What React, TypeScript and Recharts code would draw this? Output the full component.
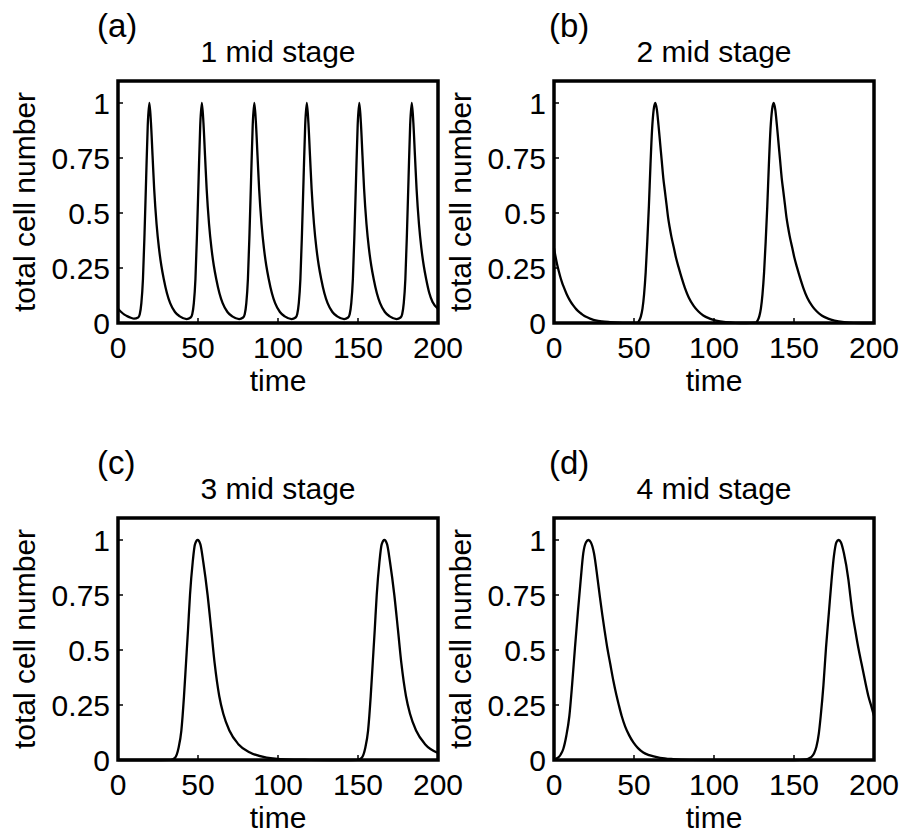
import React from 'react';
import { LineChart, Line, XAxis, YAxis, ReferenceArea } from 'recharts';

const FONT = '"Liberation Sans", Arial, Helvetica, sans-serif';

const timeTicks = [0, 50, 100, 150, 200];
const cellTicks = [0, 0.25, 0.5, 0.75, 1];

// (a) 1 mid stage
const timeA = [
  0, 2, 4, 6, 8, 10, 12.6, 13.6, 14.6, 15.6, 16.6, 17.6, 18.6, 19.6, 20.6, 21.6, 22.6, 24.1, 25.6, 27.1, 28.6, 30.6, 32.6, 35.6, 38.6, 42.9,
  45.4, 46.4, 47.4, 48.4, 49.4, 50.4, 51.4, 52.4, 53.4, 54.4, 55.4, 56.9, 58.4, 59.9, 61.4, 63.4, 65.4, 68.4, 71.4, 75.7,
  78.2, 79.2, 80.2, 81.2, 82.2, 83.2, 84.2, 85.2, 86.2, 87.2, 88.2, 89.7, 91.2, 92.7, 94.2, 96.2, 98.2, 101.2, 104.2, 108.5,
  111, 112, 113, 114, 115, 116, 117, 118, 119, 120, 121, 122.5, 124, 125.5, 127, 129, 131, 134, 137, 141.3,
  143.8, 144.8, 145.8, 146.8, 147.8, 148.8, 149.8, 150.8, 151.8, 152.8, 153.8, 155.3, 156.8, 158.3, 159.8, 161.8, 163.8, 166.8, 169.8, 174.1,
  176.6, 177.6, 178.6, 179.6, 180.6, 181.6, 182.6, 183.6, 184.6, 185.6, 186.6, 188.1, 189.6, 191.1, 192.6, 194.6, 196.6, 200,
];
const cellsA = [
  0.065, 0.05, 0.038, 0.03, 0.024, 0.02, 0.025, 0.04, 0.09, 0.2, 0.41, 0.66, 0.9, 1, 0.91, 0.76, 0.61, 0.45, 0.34, 0.26, 0.2, 0.135, 0.09, 0.05, 0.03, 0.018,
  0.025, 0.04, 0.09, 0.2, 0.41, 0.66, 0.9, 1, 0.91, 0.76, 0.61, 0.45, 0.34, 0.26, 0.2, 0.135, 0.09, 0.05, 0.03, 0.018,
  0.025, 0.04, 0.09, 0.2, 0.41, 0.66, 0.9, 1, 0.91, 0.76, 0.61, 0.45, 0.34, 0.26, 0.2, 0.135, 0.09, 0.05, 0.03, 0.018,
  0.025, 0.04, 0.09, 0.2, 0.41, 0.66, 0.9, 1, 0.91, 0.76, 0.61, 0.45, 0.34, 0.26, 0.2, 0.135, 0.09, 0.05, 0.03, 0.018,
  0.025, 0.04, 0.09, 0.2, 0.41, 0.66, 0.9, 1, 0.91, 0.76, 0.61, 0.45, 0.34, 0.26, 0.2, 0.135, 0.09, 0.05, 0.03, 0.018,
  0.025, 0.04, 0.09, 0.2, 0.41, 0.66, 0.9, 1, 0.91, 0.76, 0.61, 0.45, 0.34, 0.26, 0.2, 0.135, 0.095, 0.065,
];

// (b) 2 mid stage
const timeB = [
  0, 1, 2, 3, 4, 5, 6, 8, 10, 12, 14, 16, 18, 20, 23, 26, 30, 35, 40, 45, 50,
  52.3, 53.3, 54.3, 55.3, 56.3, 57.3, 58.3, 59.3, 60.3, 61.3, 62.3, 63.3,
  64.3, 65.3, 66.3, 67.3, 68.3, 69.3, 70.3, 71.3, 72.3, 73.3, 74.8, 76.3, 77.8, 79.8, 81.8, 84.3, 87.3, 90.3, 93.3, 97.3, 101.3, 107.3, 113.3, 120,
  126.3, 127.3, 128.3, 129.3, 130.3, 131.3, 132.3, 133.3, 134.3, 135.3, 136.3, 137.3,
  138.3, 139.3, 140.3, 141.3, 142.3, 143.3, 144.3, 145.3, 146.3, 147.3, 148.8, 150.3, 151.8, 153.8, 155.8, 158.3, 161.3, 164.3, 167.3, 171.3, 175.3, 181.3, 187.3, 200,
];
const cellsB = [
  0.34, 0.3, 0.265, 0.235, 0.208, 0.185, 0.165, 0.13, 0.102, 0.08, 0.062, 0.048, 0.037, 0.028, 0.019, 0.012, 0.007, 0.004, 0.002, 0.001, 0.001,
  0.002, 0.012, 0.03, 0.065, 0.13, 0.23, 0.37, 0.53, 0.72, 0.88, 0.97, 1,
  0.97, 0.9, 0.82, 0.74, 0.66, 0.6, 0.54, 0.48, 0.435, 0.395, 0.345, 0.295, 0.255, 0.205, 0.16, 0.115, 0.078, 0.052, 0.034, 0.02, 0.011, 0.004, 0.001, 0,
  0.002, 0.012, 0.03, 0.065, 0.13, 0.23, 0.37, 0.53, 0.72, 0.88, 0.97, 1,
  0.97, 0.9, 0.82, 0.74, 0.66, 0.6, 0.54, 0.48, 0.435, 0.395, 0.345, 0.295, 0.255, 0.205, 0.16, 0.115, 0.078, 0.052, 0.034, 0.02, 0.011, 0.004, 0.001, 0,
];

// (c) 3 mid stage
const timeC = [
  0, 20, 33, 35.6, 37.9, 39.6, 41.25, 42.5, 43.75, 45, 46.7, 48.1, 49.8,
  51.5, 53.3, 56, 58.3, 60.4, 63.3, 65.8, 69.6, 75.2, 82.5, 92.9, 105, 120, 140, 149.7,
  152.3, 154.6, 156.3, 157.95, 159.2, 160.45, 161.7, 163.4, 164.8, 166.5,
  168.2, 170, 172.7, 175, 177.1, 180, 182.5, 186.3, 191.9, 200,
];
const cellsC = [
  0, 0, 0.001, 0.01, 0.057, 0.134, 0.29, 0.44, 0.59, 0.75, 0.9, 0.98, 1,
  0.98, 0.9, 0.75, 0.59, 0.44, 0.29, 0.21, 0.134, 0.072, 0.034, 0.011, 0.003, 0.001, 0, 0.001,
  0.01, 0.057, 0.134, 0.29, 0.44, 0.59, 0.75, 0.9, 0.98, 1,
  0.98, 0.9, 0.75, 0.59, 0.44, 0.29, 0.21, 0.134, 0.072, 0.032,
];

// (d) 4 mid stage
const timeD = [
  0, 1.2, 2.7, 4.2, 5.8, 7.7, 9.6, 11.3, 13.1, 14.9, 16.7, 18.3, 20, 21.5,
  23, 25, 27.3, 28.7, 30.2, 31.7, 33.3, 35.2, 37.1, 39, 40.5, 42.3, 44.5, 47, 49.6, 52.5, 55.8, 59.5, 66.3, 74.5, 84.5, 110, 150,
  157.5, 159.5, 161, 162.5, 164, 165.5, 166.7, 168.4, 170, 171.8, 173.5, 175, 176.5, 177.9,
  179.3, 181.2, 184, 185.3, 186.7, 188.4, 190.2, 192.3, 194.4, 196.5, 198.3, 200,
];
const cellsD = [
  0.002, 0.006, 0.012, 0.025, 0.05, 0.11, 0.2, 0.34, 0.51, 0.67, 0.82, 0.94, 0.99, 1,
  0.99, 0.94, 0.82, 0.74, 0.66, 0.585, 0.51, 0.435, 0.36, 0.295, 0.25, 0.2, 0.152, 0.112, 0.08, 0.054, 0.034, 0.022, 0.01, 0.004, 0.001, 0, 0,
  0.003, 0.008, 0.015, 0.03, 0.06, 0.12, 0.2, 0.34, 0.51, 0.67, 0.82, 0.93, 0.99, 1,
  0.99, 0.94, 0.82, 0.74, 0.66, 0.585, 0.51, 0.435, 0.36, 0.29, 0.245, 0.2,
];

const tickMark = { stroke: '#000', strokeWidth: 1.5 };
const tickText = { fill: '#000', fontSize: 30, fontFamily: FONT };

type PanelProps = {
  tag: string;
  title: string;
  times: number[];
  cells: number[];
  left: number;
  top: number;
  width: number;
  axisWidth: number;
  plotRight: number;
};

const PLOT_TOP = 81;
const PLOT_H = 242;

const Panel = ({ tag, title, times, cells, left, top, width, axisWidth, plotRight }: PanelProps) => {
  const data = times.map((t, i) => ({ t, v: cells[i] }));
  const plotCenter = (axisWidth + plotRight) / 2;

  return (
    <div style={{ position: 'absolute', left, top, width, height: 400 }}>
      <div style={{ position: 'absolute', left: 97, top: 9, fontSize: 33, lineHeight: '33px', fontFamily: FONT, whiteSpace: 'nowrap' }}>
        {tag}
      </div>
      <div
        style={{
          position: 'absolute', left: plotCenter, top: 37, fontSize: 30, lineHeight: '30px',
          fontFamily: FONT, whiteSpace: 'nowrap', transform: 'translateX(-50%)',
        }}
      >
        {title}
      </div>
      <div
        style={{
          position: 'absolute', left: axisWidth - 93, top: PLOT_TOP + PLOT_H / 2, fontSize: 30, lineHeight: '30px',
          fontFamily: FONT, whiteSpace: 'nowrap', transform: 'translate(-50%, -50%) rotate(-90deg)',
        }}
      >
        total cell number
      </div>
      <LineChart
        width={width}
        height={400}
        data={data}
        margin={{ top: PLOT_TOP, right: width - plotRight, left: 0, bottom: 0 }}
      >
        <XAxis
          xAxisId="b"
          dataKey="t"
          type="number"
          domain={[0, 200]}
          ticks={timeTicks}
          interval={0}
          height={400 - PLOT_TOP - PLOT_H}
          axisLine={false}
          tickLine={tickMark}
          tickSize={-5}
          tickMargin={19}
          tick={tickText}
          label={{ value: 'time', position: 'insideBottom', offset: 9, fill: '#000', fontSize: 30, fontFamily: FONT }}
        />
        <XAxis
          xAxisId="t"
          dataKey="t"
          orientation="top"
          type="number"
          domain={[0, 200]}
          ticks={timeTicks}
          interval={0}
          mirror
          height={0}
          axisLine={false}
          tickLine={tickMark}
          tickSize={5}
          tick={false}
        />
        <YAxis
          yAxisId="l"
          type="number"
          domain={[0, 1.1]}
          ticks={cellTicks}
          interval={0}
          width={axisWidth}
          axisLine={false}
          tickLine={tickMark}
          tickSize={-5}
          tickMargin={13}
          tick={tickText}
        />
        <YAxis
          yAxisId="r"
          orientation="right"
          type="number"
          domain={[0, 1.1]}
          ticks={cellTicks}
          interval={0}
          mirror
          width={0}
          axisLine={false}
          tickLine={tickMark}
          tickSize={5}
          tick={false}
        />
        {/* carries the top / right tick axes, draws nothing */}
        <Line
          xAxisId="t"
          yAxisId="r"
          dataKey="v"
          stroke="none"
          dot={false}
          activeDot={false}
          isAnimationActive={false}
        />
        <Line
          xAxisId="b"
          yAxisId="l"
          dataKey="v"
          type="monotone"
          stroke="#000"
          strokeWidth={2.3}
          dot={false}
          isAnimationActive={false}
        />
        <ReferenceArea
          xAxisId="b"
          yAxisId="l"
          x1={0}
          x2={200}
          y1={0}
          y2={1.1}
          fill="none"
          stroke="#000"
          strokeWidth={3.5}
          ifOverflow="visible"
        />
      </LineChart>
    </div>
  );
};

export default function App() {
  return (
    <div style={{ position: 'absolute', left: 0, top: 0, width: 904, height: 837, background: '#fff', overflow: 'hidden' }}>
      <Panel tag="(a)" title="1 mid stage" times={timeA} cells={cellsA} left={0} top={0} width={480} axisWidth={118} plotRight={438} />
      <Panel tag="(b)" title="2 mid stage" times={timeB} cells={cellsB} left={452} top={0} width={452} axisWidth={102} plotRight={422} />
      <Panel tag="(c)" title="3 mid stage" times={timeC} cells={cellsC} left={0} top={437} width={480} axisWidth={118} plotRight={438} />
      <Panel tag="(d)" title="4 mid stage" times={timeD} cells={cellsD} left={452} top={437} width={452} axisWidth={102} plotRight={422} />
    </div>
  );
}
